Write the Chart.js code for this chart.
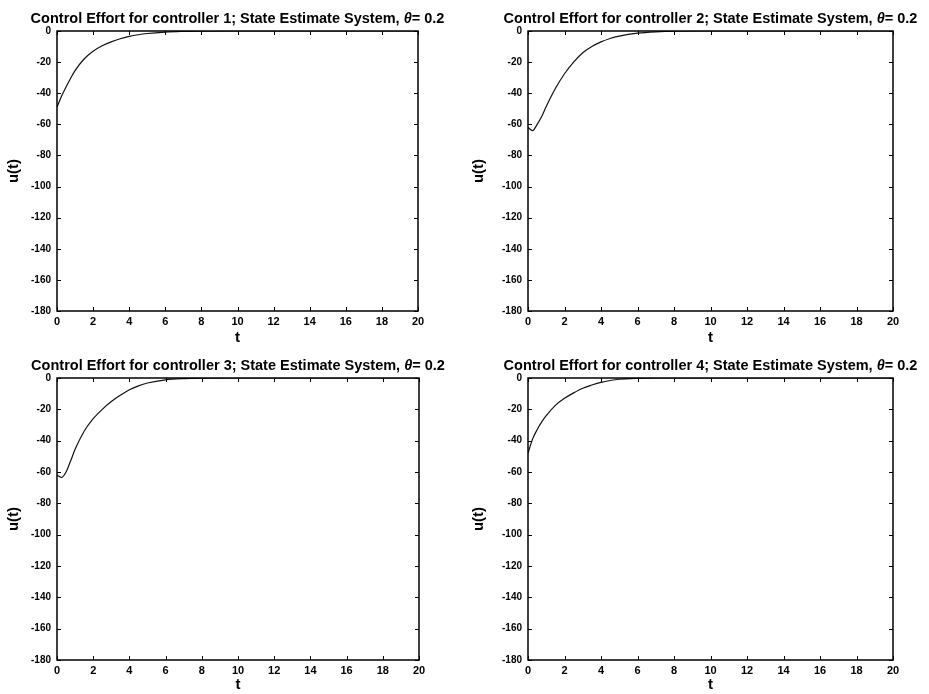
<!DOCTYPE html>
<html>
<head>
<meta charset="utf-8">
<title>Control Effort</title>
<script src="https://cdn.jsdelivr.net/npm/chart.js@4/dist/chart.umd.min.js"></script>
<style>
    body { margin: 0; background: #fff; }
    #grid { position: relative; width: 929px; height: 694px; }
    canvas { position: absolute; }
</style>
</head>
<body>
<div id="grid">
    <canvas id="ctrl1" width="465" height="347" style="left:0;top:0"></canvas>
    <canvas id="ctrl2" width="464" height="347" style="left:465px;top:0"></canvas>
    <canvas id="ctrl3" width="465" height="347" style="left:0;top:347px"></canvas>
    <canvas id="ctrl4" width="464" height="347" style="left:465px;top:347px"></canvas>
</div>
<script>
// DATA -----------------------------------------------------------------------

const tValues = [0, 0.25, 0.5, 0.75, 1, 1.5, 2, 2.5, 3, 3.5, 4, 4.5, 5, 6, 7, 8, 10, 12, 14, 16, 18, 20]

const u1 = [-49, -42, -36, -30.5, -25.5, -18, -13, -9.5, -7, -5, -3.5, -2.4, -1.6, -0.7, -0.3, -0.1, 0, 0, 0, 0, 0, 0]
const u2 = [-62, -64, -60, -55, -48.5, -37, -27.5, -20, -14, -10, -7, -4.8, -3.3, -1.4, -0.5, -0.1, 0, 0, 0, 0, 0, 0]
const u3 = [-62, -63.5, -60, -53, -45.5, -34, -26, -20, -15, -11, -7.5, -5, -3.2, -1.2, -0.4, -0.1, 0, 0, 0, 0, 0, 0]
const u4 = [-48, -39, -33, -28, -24, -17.5, -13, -9.5, -6.5, -4.5, -2.8, -1.6, -0.8, -0.2, 0, 0, 0, 0, 0, 0, 0, 0]

const xRange = [0, 20]
const yRange = [-180, 0]

// title pieces: plain bold text, italic theta, then the value
const titleParts = n => [
    {text: `Control Effort for controller ${n}; State Estimate System, `, italic: false},
    {text: '\u03b8', italic: true},
    {text: '= 0.2', italic: false}
]

// SETTINGS -------------------------------------------------------------------

const fontFamily = '"Liberation Sans", Arial, Helvetica, sans-serif'

// plot box of each panel, in canvas pixels
const panels = [
    {id: 'ctrl1', n: 1, u: u1, box: {left: 57, right: 418, top: 31, bottom: 311}},
    {id: 'ctrl2', n: 2, u: u2, box: {left: 63, right: 428, top: 31, bottom: 311}},
    {id: 'ctrl3', n: 3, u: u3, box: {left: 57, right: 419, top: 31, bottom: 313}},
    {id: 'ctrl4', n: 4, u: u4, box: {left: 63, right: 428, top: 31, bottom: 313}},
]

// PLUGINS --------------------------------------------------------------------

// axes box with inward ticks on all four sides
const boxPlugin = {
    id: 'axesBox',
    afterDatasetsDraw(chart) {
        const {ctx, chartArea: a, scales: {x, y}} = chart
        const len = 4
        ctx.save()
        ctx.strokeStyle = '#000'
        ctx.lineWidth = 1.5
        ctx.strokeRect(a.left, a.top, a.right - a.left, a.bottom - a.top)
        ctx.lineWidth = 1
        ctx.beginPath()
        x.ticks.forEach(t => {
            const px = Math.round(x.getPixelForValue(t.value)) + 0.5
            ctx.moveTo(px, a.bottom); ctx.lineTo(px, a.bottom - len)
            ctx.moveTo(px, a.top); ctx.lineTo(px, a.top + len)
        })
        y.ticks.forEach(t => {
            const py = Math.round(y.getPixelForValue(t.value)) + 0.5
            ctx.moveTo(a.left, py); ctx.lineTo(a.left + len, py)
            ctx.moveTo(a.right, py); ctx.lineTo(a.right - len, py)
        })
        ctx.stroke()
        ctx.restore()
    }
}

// title centred over the axes, with an italic theta
const axesTitlePlugin = {
    id: 'axesTitle',
    afterDraw(chart, args, opts) {
        const {ctx, chartArea: a} = chart
        const parts = opts.parts || []
        const fontOf = p => `${p.italic ? 'italic ' : ''}bold ${opts.size}px ${fontFamily}`
        ctx.save()
        ctx.fillStyle = '#000'
        ctx.textBaseline = 'alphabetic'
        ctx.textAlign = 'left'
        const widths = parts.map(p => { ctx.font = fontOf(p); return ctx.measureText(p.text).width })
        let x = (a.left + a.right) / 2 - widths.reduce((s, w) => s + w, 0) / 2
        parts.forEach((p, i) => {
            ctx.font = fontOf(p)
            ctx.fillText(p.text, x, a.top - 8)
            x += widths[i]
        })
        ctx.restore()
    }
}

// CHARTS ---------------------------------------------------------------------

function showPanel(panel) {
    const canvas = document.getElementById(panel.id)
    const box = panel.box

    new Chart(canvas, {
        type: 'line',
        data: {
            datasets: [{
                data: tValues.map((t, i) => ({x: t, y: panel.u[i]})),
                borderColor: '#111',
                borderWidth: 1.2,
                pointRadius: 0,
                cubicInterpolationMode: 'monotone',
                fill: false
            }]
        },
        options: {
            responsive: false,
            animation: false,
            layout: {
                padding: {left: 0, top: box.top, right: canvas.width - box.right, bottom: 0}
            },
            plugins: {
                legend: {display: false},
                tooltip: {enabled: false},
                title: {display: false},
                axesTitle: {parts: titleParts(panel.n), size: 14.5}
            },
            scales: {
                x: {
                    type: 'linear',
                    min: xRange[0],
                    max: xRange[1],
                    grid: {display: false, drawTicks: false},
                    border: {display: false},
                    ticks: {
                        stepSize: 2,
                        padding: 4,
                        color: '#000',
                        maxRotation: 0,
                        font: {family: fontFamily, size: 11, weight: 'bold'}
                    },
                    title: {
                        display: true,
                        text: 't',
                        color: '#000',
                        padding: 0,
                        font: {family: fontFamily, size: 15, weight: 'bold', lineHeight: 1.2}
                    },
                    afterFit: scale => { scale.height = canvas.height - box.bottom }
                },
                y: {
                    min: yRange[0],
                    max: yRange[1],
                    grid: {display: false, drawTicks: false},
                    border: {display: false},
                    ticks: {
                        stepSize: 20,
                        padding: 6,
                        color: '#000',
                        font: {family: fontFamily, size: 10, weight: 'bold'}
                    },
                    title: {
                        display: true,
                        text: 'u(t)',
                        color: '#000',
                        padding: {top: 5, bottom: 0},
                        font: {family: fontFamily, size: 15, weight: 'bold', lineHeight: 1.2}
                    },
                    afterFit: scale => { scale.width = box.left }
                }
            }
        },
        plugins: [boxPlugin, axesTitlePlugin]
    })
}

panels.forEach(showPanel)
</script>
</body>
</html>
